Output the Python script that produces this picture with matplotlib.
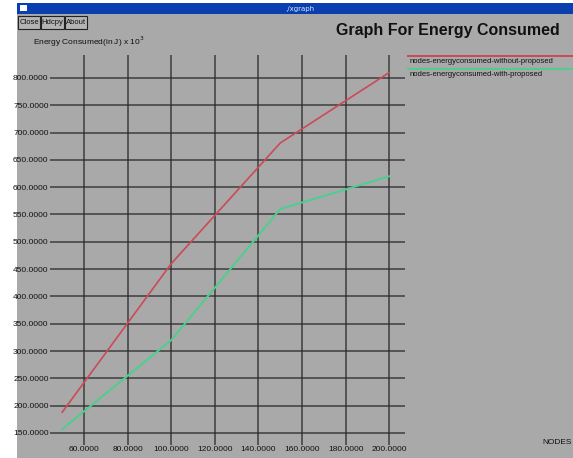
import numpy as np
from matplotlib import pyplot as plt
from matplotlib.patches import Rectangle
import matplotlib.ticker as mtick

W, H = 573, 458

nodes = [50, 100, 150, 200]
energy_without = [188, 460, 681, 810]
energy_with = [157, 320, 560, 620]

x_ticks = [60, 80, 100, 120, 140, 160, 180, 200]
y_ticks = [150, 200, 250, 300, 350, 400, 450, 500, 550, 600, 650, 700, 750, 800]

bg = '#a9a9a9'
red = '#cc4a55'
green = '#4ccf8e'
narrow = ['Liberation Sans Narrow', 'Liberation Sans', 'DejaVu Sans']


def px(x0, y0, w, h):
    # pixel box (top-left origin) -> figure fraction
    return [x0 / W, 1 - (y0 + h) / H, w / W, h / H]


fig = plt.figure(figsize=(W / 100, H / 100), dpi=100)
fig.patch.set_facecolor('white')

# window body
b = px(17, 3, W - 17, H - 3)
fig.patches.append(Rectangle((b[0], b[1]), b[2], b[3], transform=fig.transFigure,
                             facecolor=bg, edgecolor='none', zorder=-5))
# title bar
t = px(17, 3, W - 17, 11)
fig.patches.append(Rectangle((t[0], t[1]), t[2], t[3], transform=fig.transFigure,
                             facecolor='#0a3fb0', edgecolor='none', zorder=-4))
fig.text(300 / W, 1 - 8.5 / H, './xgraph', color='#dfe8ff', fontsize=5,
         ha='center', va='center')
s = px(20, 5, 7, 6)
fig.patches.append(Rectangle((s[0], s[1]), s[2], s[3], transform=fig.transFigure,
                             facecolor='white', edgecolor='none', zorder=-3))

# buttons
for label, x0, w in [('Close', 18, 22), ('Hdcpy', 41, 23), ('About', 65, 22)]:
    r = px(x0, 16, w, 13)
    fig.patches.append(Rectangle((r[0], r[1]), r[2], r[3], transform=fig.transFigure,
                                 facecolor='#b4b4b4', edgecolor='#222222',
                                 linewidth=0.8, zorder=-3))
    fig.text((x0 + w / 2) / W, 1 - 22.5 / H, label, fontsize=5.5, family=narrow,
             ha='center', va='center', color='#111111')

fig.text(560 / W, 1 - 30 / H, 'Graph For Energy Consumed', fontsize=11.5,
         family=narrow, fontweight='bold', ha='right', va='center', color='#111111')
fig.text(33 / W, 1 - 42 / H, r'Energy Consumed(in J) x 10$^3$', fontsize=6,
         family=narrow, ha='left', va='center', color='#111111')
fig.text(572 / W, 1 - 443 / H, 'NODES', fontsize=6, family=narrow, ha='right',
         va='center', color='#111111')

ax = fig.add_axes(px(50, 55, 355, 390))
ax.set_facecolor('none')
ax.set_xlim(44.4, 207.2)
ax.set_ylim(128, 842)
ax.set_xticks(x_ticks)
ax.set_yticks(y_ticks)
ax.xaxis.set_major_formatter(mtick.FormatStrFormatter('%.4f'))
ax.yaxis.set_major_formatter(mtick.FormatStrFormatter('%.4f'))
ax.tick_params(length=0, labelsize=6, pad=1, colors='#111111')
for lab in ax.get_xticklabels() + ax.get_yticklabels():
    lab.set_family(narrow)
ax.grid(True, color='#2a2a2a', linewidth=1.1, alpha=0.85)
for sp in ax.spines.values():
    sp.set_visible(False)

ax.plot(nodes, energy_without, color=red, linewidth=1.2, zorder=3)
ax.plot(nodes, energy_with, color=green, linewidth=1.4, zorder=3)

# legend drawn like xgraph: line above the label
for yl, col, label in [(56, red, 'nodes-energyconsumed-without-proposed'),
                       (69, green, 'nodes-energyconsumed-with-proposed')]:
    fig.add_artist(plt.Line2D([408 / W, 1.0], [1 - yl / H, 1 - yl / H],
                              color=col, linewidth=1.4))
    fig.text(410 / W, 1 - (yl + 5.5) / H, label, fontsize=5.5, family=narrow,
             ha='left', va='center', color='#111111')

plt.savefig('out.png', dpi=100, facecolor=fig.get_facecolor())
